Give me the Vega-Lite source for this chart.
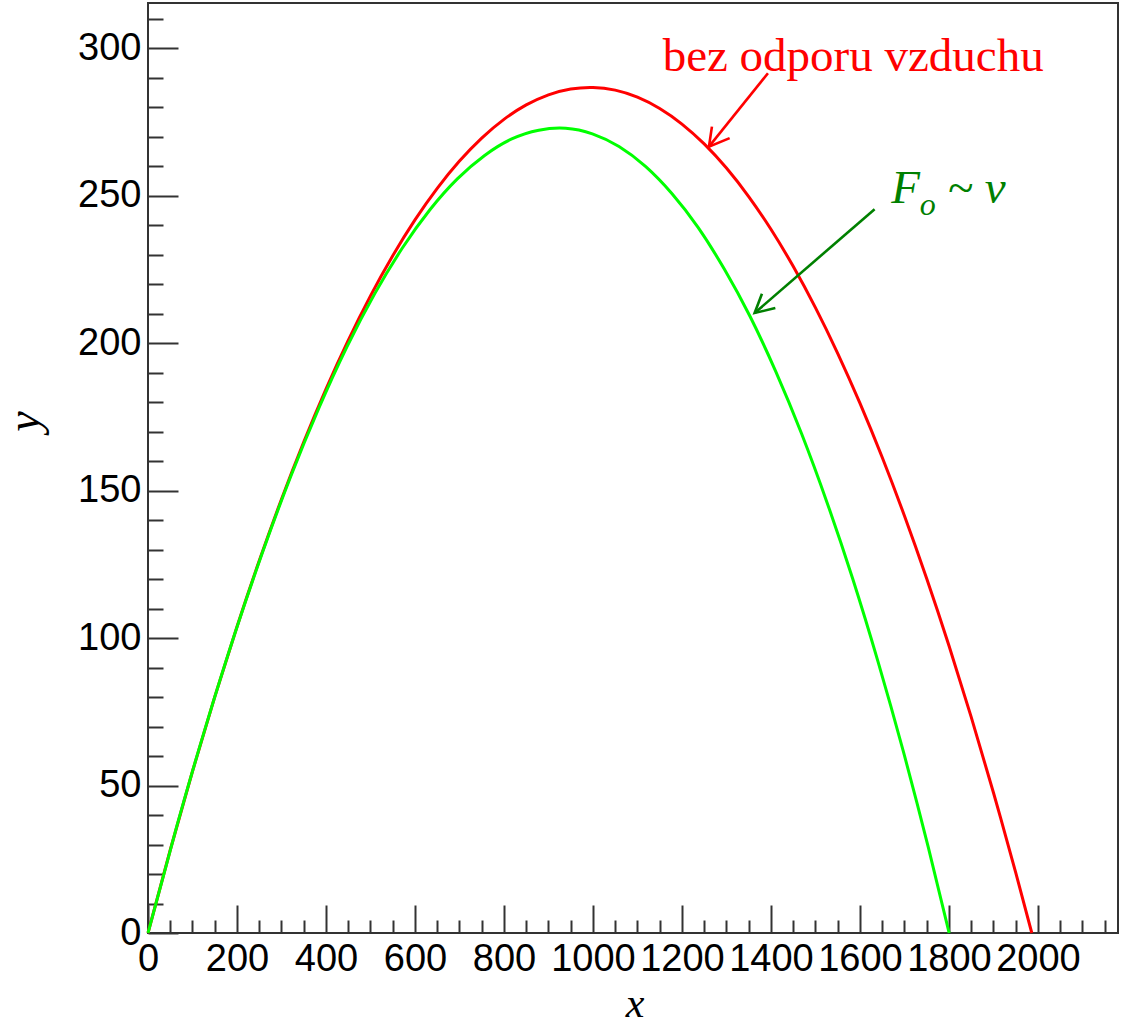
{
  "$schema": "https://vega.github.io/schema/vega-lite/v6.json",
  "width": 970,
  "height": 930,
  "autosize": "none",
  "padding": {"left": 148, "top": 3, "right": 6, "bottom": 89},
  "background": "white",
  "config": {
    "view": {"stroke": "#333333", "strokeWidth": 2},
    "axis": {"grid": false, "domain": false, "labelOverlap": false}
  },
  "datasets": {
    "bez": [
      {"x": 0, "y": 0}, {"x": 50, "y": 28.14}, {"x": 100, "y": 54.83}, {"x": 150, "y": 80.06},
      {"x": 200, "y": 103.84}, {"x": 250, "y": 126.17}, {"x": 300, "y": 147.05}, {"x": 350, "y": 166.46},
      {"x": 400, "y": 184.43}, {"x": 450, "y": 200.95}, {"x": 500, "y": 216.01}, {"x": 550, "y": 229.61},
      {"x": 600, "y": 241.77}, {"x": 650, "y": 252.47}, {"x": 700, "y": 261.72}, {"x": 750, "y": 269.51},
      {"x": 800, "y": 275.85}, {"x": 850, "y": 280.74}, {"x": 900, "y": 284.18}, {"x": 950, "y": 286.15},
      {"x": 1000, "y": 286.68}, {"x": 1050, "y": 285.76}, {"x": 1100, "y": 283.38}, {"x": 1150, "y": 279.54},
      {"x": 1200, "y": 274.26}, {"x": 1250, "y": 267.52}, {"x": 1300, "y": 259.33}, {"x": 1350, "y": 249.67},
      {"x": 1400, "y": 238.58}, {"x": 1450, "y": 226.03}, {"x": 1500, "y": 212.02}, {"x": 1550, "y": 196.55},
      {"x": 1600, "y": 179.64}, {"x": 1650, "y": 161.28}, {"x": 1700, "y": 141.46}, {"x": 1750, "y": 120.18},
      {"x": 1800, "y": 97.46}, {"x": 1850, "y": 73.28}, {"x": 1900, "y": 47.65}, {"x": 1950, "y": 20.56},
      {"x": 1986.3, "y": 0}
    ],
    "odpor": [
      {"x": 0, "y": 0}, {"x": 64.8, "y": 36.23}, {"x": 129.25, "y": 69.72}, {"x": 193.4, "y": 100.67},
      {"x": 257.22, "y": 128.99}, {"x": 320.73, "y": 154.76}, {"x": 383.92, "y": 177.9}, {"x": 446.8, "y": 198.61},
      {"x": 509.37, "y": 216.68}, {"x": 571.62, "y": 232.22}, {"x": 633.56, "y": 245.22}, {"x": 695.18, "y": 255.68},
      {"x": 756.5, "y": 263.62}, {"x": 817.53, "y": 269.22}, {"x": 878.23, "y": 272.19}, {"x": 938.65, "y": 272.84},
      {"x": 998.75, "y": 270.95}, {"x": 1058.56, "y": 266.63}, {"x": 1118.07, "y": 259.89}, {"x": 1177.28, "y": 250.71},
      {"x": 1236.22, "y": 239.21}, {"x": 1294.82, "y": 225.18}, {"x": 1353.17, "y": 209.0}, {"x": 1411.2, "y": 190.25},
      {"x": 1468.95, "y": 169.25}, {"x": 1526.42, "y": 145.82}, {"x": 1583.6, "y": 120.17}, {"x": 1640.49, "y": 92.09},
      {"x": 1697.1, "y": 61.8}, {"x": 1753.42, "y": 29.18}, {"x": 1800.5, "y": 0}
    ],
    "redArrow": [
      {"part": "shaft", "ord": 1, "x": 1393.3, "y": 291.5},
      {"part": "shaft", "ord": 2, "x": 1260.7, "y": 266.6},
      {"part": "head", "ord": 1, "x": 1267.4, "y": 273.4},
      {"part": "head", "ord": 2, "x": 1260.7, "y": 266.6},
      {"part": "head", "ord": 3, "x": 1307.2, "y": 269.5}
    ],
    "greenArrow": [
      {"part": "shaft", "ord": 1, "x": 1633.0, "y": 245.4},
      {"part": "shaft", "ord": 2, "x": 1363.4, "y": 210.2},
      {"part": "head", "ord": 1, "x": 1379.8, "y": 216.7},
      {"part": "head", "ord": 2, "x": 1363.4, "y": 210.2},
      {"part": "head", "ord": 3, "x": 1409.9, "y": 211.9}
    ]
  },
  "encoding": {
    "x": {
      "field": "x", "type": "quantitative",
      "scale": {"domain": [0, 2180], "nice": false, "zero": false},
      "axis": {
        "title": "x",
        "titleFont": "Liberation Serif", "titleFontStyle": "italic", "titleFontWeight": "normal",
        "titleFontSize": 42, "titleColor": "black",
        "titleX": 486.7, "titleY": 83.4, "titleBaseline": "alphabetic", "titleAlign": "center",
        "values": [0,50,100,150,200,250,300,350,400,450,500,550,600,650,700,750,800,850,900,950,1000,1050,1100,1150,1200,1250,1300,1350,1400,1450,1500,1550,1600,1650,1700,1750,1800,1850,1900,1950,2000,2050,2100,2150],
        "format": "d",
        "labelExpr": "datum.value % 200 === 0 ? datum.label : ''",
        "labelFont": "Liberation Sans", "labelFontSize": 38, "labelColor": "black",
        "labelPadding": 35, "labelOverlap": false, "labelFlush": false, "labelBound": false,
        "tickSize": {"condition": {"test": "datum.value % 200 === 0", "value": -28}, "value": -13},
        "tickColor": "#333333", "tickWidth": 2
      }
    },
    "y": {
      "field": "y", "type": "quantitative",
      "scale": {"domain": [0, 315.3], "nice": false, "zero": false},
      "axis": {
        "title": "y",
        "titleFont": "Liberation Serif", "titleFontStyle": "italic", "titleFontWeight": "normal",
        "titleFontSize": 46, "titleColor": "black", "titleAngle": 270,
        "titleX": -109.3, "titleY": 418, "titleBaseline": "alphabetic", "titleAlign": "center",
        "values": [0,10,20,30,40,50,60,70,80,90,100,110,120,130,140,150,160,170,180,190,200,210,220,230,240,250,260,270,280,290,300,310],
        "format": "d",
        "labelExpr": "datum.value % 50 === 0 ? datum.label : ''",
        "labelFont": "Liberation Sans", "labelFontSize": 38, "labelColor": "black",
        "labelPadding": 37, "labelOverlap": false, "labelFlush": false, "labelBound": false,
        "tickSize": {"condition": {"test": "datum.value % 50 === 0", "value": -30}, "value": -15},
        "tickColor": "#333333", "tickWidth": 2
      }
    }
  },
  "layer": [
    {
      "data": {"name": "bez"},
      "mark": {"type": "line", "color": "#ff0000", "strokeWidth": 3, "interpolate": "natural"}
    },
    {
      "data": {"name": "odpor"},
      "mark": {"type": "line", "color": "#00ff00", "strokeWidth": 3, "interpolate": "natural"}
    },
    {
      "data": {"name": "redArrow"},
      "mark": {"type": "line", "color": "#ff0000", "strokeWidth": 2.6},
      "encoding": {
        "detail": {"field": "part"},
        "order": {"field": "ord", "type": "quantitative"}
      }
    },
    {
      "data": {"name": "greenArrow"},
      "mark": {"type": "line", "color": "#008000", "strokeWidth": 2.6},
      "encoding": {
        "detail": {"field": "part"},
        "order": {"field": "ord", "type": "quantitative"}
      }
    },
    {
      "data": {"values": [{"x": 1156.6, "y": 292.4, "t": "bez odporu vzduchu"}]},
      "mark": {"type": "text", "font": "Liberation Serif", "fontSize": 47, "color": "#ff0000", "align": "left", "baseline": "alphabetic"},
      "encoding": {"text": {"field": "t"}}
    },
    {
      "data": {"values": [{"x": 1670.6, "y": 247.5, "t": "F"}]},
      "mark": {"type": "text", "font": "Liberation Serif", "fontStyle": "italic", "fontSize": 47, "color": "#008000", "align": "left", "baseline": "alphabetic"},
      "encoding": {"text": {"field": "t"}}
    },
    {
      "data": {"values": [{"x": 1734.2, "y": 243.5, "t": "o"}]},
      "mark": {"type": "text", "font": "Liberation Serif", "fontStyle": "italic", "fontSize": 32, "color": "#008000", "align": "left", "baseline": "alphabetic"},
      "encoding": {"text": {"field": "t"}}
    },
    {
      "data": {"values": [{"x": 1797, "y": 247.5, "t": "~ v"}]},
      "mark": {"type": "text", "font": "Liberation Serif", "fontStyle": "italic", "fontSize": 47, "color": "#008000", "align": "left", "baseline": "alphabetic"},
      "encoding": {"text": {"field": "t"}}
    }
  ]
}
